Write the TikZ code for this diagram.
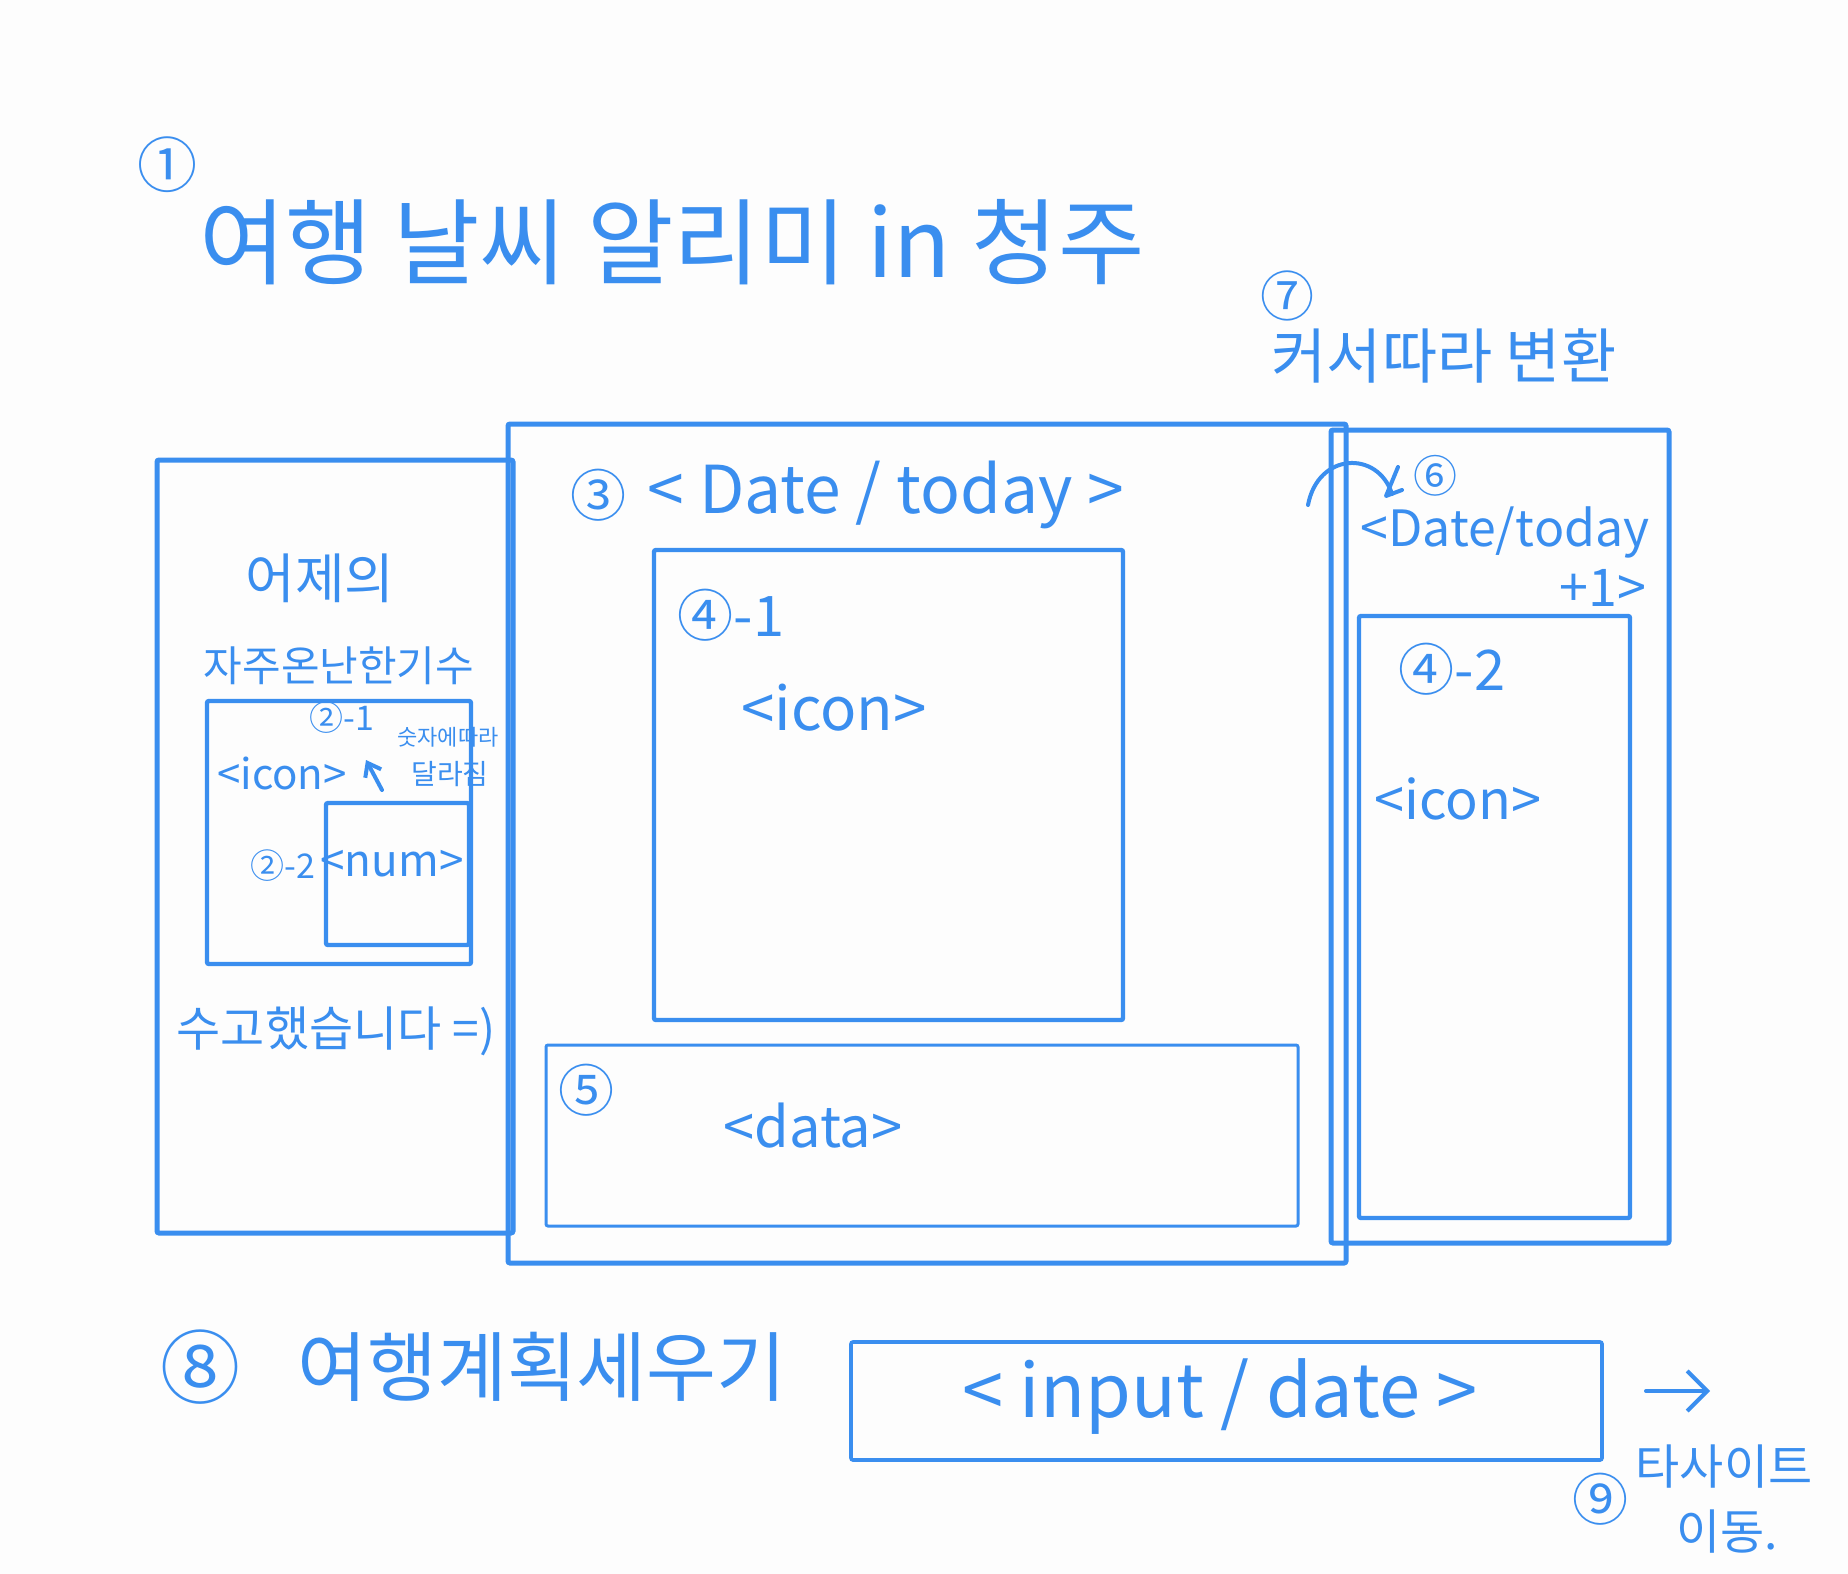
\documentclass[tikz,border=0pt]{standalone}
\usepackage{fontspec}
\newfontfamily\kr{Noto Sans CJK KR}
\usetikzlibrary{fit,arrows.meta}
\definecolor{pen}{HTML}{3A8EEF}
\definecolor{paper}{HTML}{FDFDFD}
\tikzset{
  box/.style={draw=pen, line width=2.5pt, inner sep=0pt, rounded corners=1pt},
  thinbox/.style={draw=pen, line width=1.5pt, inner sep=0pt, rounded corners=1pt},
  hw/.style={text=pen, inner sep=0pt, font=\kr\fontsize{#1}{#1}\selectfont},
  stroke/.style={draw=pen, line width=2pt, line cap=round, line join=round}
}
\begin{document}
\begin{tikzpicture}[x=0.5pt,y=-0.5pt]
\fill[paper] (0,0) rectangle (1848,1574);
\useasboundingbox (0,0) rectangle (1848,1574);

% title
\node[hw=30] (n1) at (167,165) {①};
\node[hw=47] (title) at (672,242) {여행 날씨 알리미 in 청주};

% cursor note
\node[hw=27] (n7) at (1287,296) {⑦};
\node[hw=30] (cursor) at (1444,356) {커서따라 변환};

% boxes
\node[box, fit={(157,460)(513,1233)}] (leftbox) {};
\node[box, line width=2.2pt, fit={(207,701)(471,964)}] (leftinner) {};
\node[box, line width=2.2pt, fit={(326,803)(469,945)}] (numbox) {};
\node[box, fit={(508,424)(1346,1263)}] (midbox) {};
\node[box, line width=2.2pt, fit={(654,550)(1123,1020)}] (box41) {};
\node[thinbox, fit={(546,1045)(1298,1226)}] (box5) {};
\node[box, fit={(1331,430)(1669,1243)}] (rightbox) {};
\node[box, line width=2.2pt, fit={(1359,616)(1630,1218)}] (box42) {};
\node[thinbox, line width=1.8pt, fit={(851,1342)(1602,1460)}] (inputbox) {};

% left column
\node[hw=27] (yest) at (320,578) {어제의};
\node[hw=21] (often) at (339,666) {자주온난한기수};
\node[hw=17] (n21) at (342,718) {②-1};
\node[hw=21] (licon) at (282,773) {<icon>};
\node[hw=11] (note1) at (448,737) {숫자에따라};
\node[hw=14] (note2) at (450,774) {달라짐};
\coordinate (ar1) at (382,790);
\coordinate (ar2) at (366,760);
\draw[stroke, -{Straight Barb[length=6pt,width=9pt]}] (ar1) -- (ar2);
\node[hw=17] (n22) at (283,866) {②-2};
\node[hw=22] (num) at (392,864) {<num>};
\node[hw=24] (thanks) at (336,1031) {수고했습니다 =)};

% middle column
\node[hw=28] (n3) at (598,495) {③};
\node[hw=33] (date) at (886,495) {< Date / today >};
\node[hw=28] (n41) at (731,615) {④-1};
\node[hw=30] (micon) at (834,708) {<icon>};
\node[hw=28] (n5) at (586,1090) {⑤};
\node[hw=28] (data) at (813,1126) {<data>};

% right column
\node[hw=22] (n6) at (1435,476) {⑥};
\coordinate (cv1) at (1308,505);
\coordinate (cv2) at (1392,494);
\draw[stroke] (cv1) .. controls (1318,452) and (1378,450) .. (cv2);
\draw[stroke] (1398,467) -- (1386,496) -- (1402,490);
\node[hw=25] (date2) at (1505,532) {<Date/today};
\node[hw=26] (plus1) at (1603,588) {+1>};
\node[hw=28] (n42) at (1452,669) {④-2};
\node[hw=27] (ricon) at (1458,799) {<icon>};

% bottom
\node[hw=40] (n8) at (200,1367) {⑧};
\node[hw=38] (plan) at (542,1367) {여행계획세우기};
\node[hw=37] (inputlbl) at (1220,1397) {< input / date >};
\coordinate (go1) at (1646,1391);
\coordinate (go2) at (1710,1391);
\draw[stroke, -{Straight Barb[length=10pt,width=20pt]}] (go1) -- (go2);
\node[hw=28] (n9) at (1600,1499) {⑨};
\node[hw=24] (other) at (1724,1467) {타사이트};
\node[hw=24] (move) at (1727,1532) {이동.};
\end{tikzpicture}
\end{document}
